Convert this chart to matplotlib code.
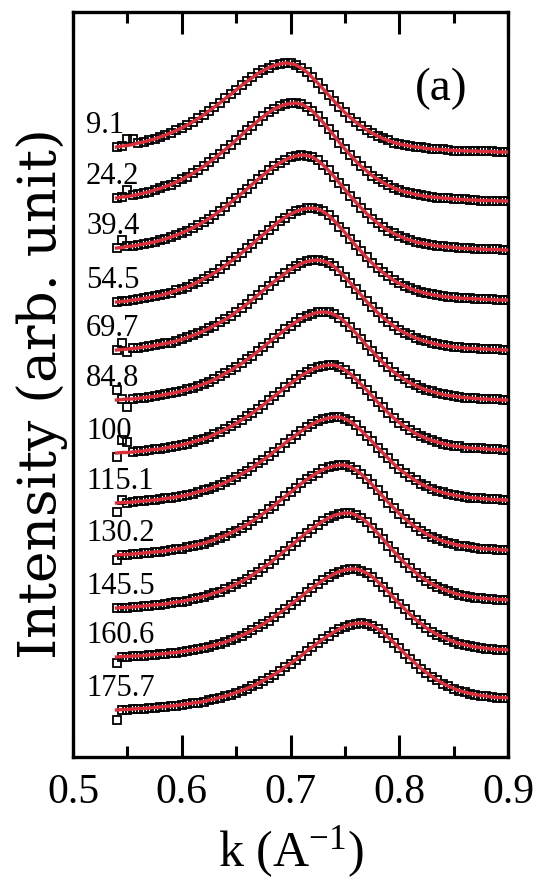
import numpy as np
import matplotlib
matplotlib.use("Agg")
import matplotlib.pyplot as plt

# Temperature of each scan, top to bottom
temps = ["9.1", "24.2", "39.4", "54.5", "69.7", "84.8", "100",
         "115.1", "130.2", "145.5", "160.6", "175.7"]

# Momentum transfer grid (A^-1)
k = np.round(np.linspace(0.54, 0.90, 73), 3)

# Fitted intensity profiles, in units of 0.01 arb. unit
I_9_1 = [120,122,123,125,128,130,133,136,140,144,148,153,158,164,170,177,184,192,200,208,217,225,234,243,251,259,267,273,279,283,286,288,287,284,278,270,259,248,236,224,212,200,189,179,170,162,154,148,142,137,133,129,126,124,122,120,119,117,116,115,115,114,113,113,112,112,112,111,111,111,110,110,110]
I_24_2 = [118,120,121,123,125,128,130,134,137,141,145,150,155,161,167,174,181,189,197,206,215,224,234,244,254,263,272,281,289,296,301,305,307,308,306,300,292,281,269,256,243,229,216,204,192,181,172,163,156,149,143,138,134,130,128,125,123,121,120,119,118,117,116,115,115,114,114,113,113,113,112,112,112]
I_39_4 = [118,119,121,122,124,126,128,130,133,136,140,144,148,153,158,164,170,177,184,192,200,209,218,227,236,246,255,264,273,281,288,294,299,302,304,303,300,293,284,273,261,248,235,222,210,198,187,177,168,160,153,147,142,137,134,130,128,126,124,122,121,120,119,118,117,117,116,116,115,115,115,114,114]
I_54_5 = [110,111,112,114,115,117,119,121,123,126,129,133,136,140,145,150,156,162,168,175,183,191,199,208,217,226,236,245,254,263,272,279,286,291,295,297,298,296,291,283,273,261,249,236,223,211,199,188,178,169,161,153,147,142,137,133,130,127,125,123,121,120,119,118,117,117,116,116,115,115,114,114,114]
I_69_7 = [114,115,116,117,118,120,121,123,125,127,129,132,135,139,143,147,152,157,163,169,175,182,190,198,206,215,224,233,242,251,259,267,275,281,287,291,293,294,292,288,281,271,260,248,236,224,211,200,189,179,170,162,154,148,143,138,134,131,128,125,123,122,120,119,118,117,117,116,116,115,115,114,114]
I_84_8 = [114,115,116,116,117,119,120,121,123,125,127,129,132,135,138,142,146,150,155,161,167,173,180,187,195,203,211,220,229,238,246,255,263,270,277,282,286,289,290,289,285,279,270,259,248,236,223,212,200,189,179,170,162,155,148,143,138,134,131,128,125,123,122,120,119,118,117,116,116,115,115,114,114]
I_100 = [108,109,109,110,111,112,114,115,116,118,120,122,124,127,130,133,136,140,145,150,155,161,167,174,181,188,196,204,213,222,230,239,247,255,263,269,275,279,282,284,284,280,274,266,256,245,234,222,210,199,188,178,169,161,154,147,142,137,133,130,127,124,122,121,119,118,117,117,116,115,115,114,114]
I_115_1 = [108,109,109,110,111,112,113,114,115,117,118,120,122,124,127,130,133,136,140,144,149,154,160,166,172,179,187,194,202,211,219,228,236,244,252,259,266,271,275,278,280,280,276,271,263,253,242,231,219,208,197,186,176,168,160,153,146,141,136,132,129,126,124,122,120,119,118,117,116,115,115,114,114]
I_130_2 = [104,105,105,106,107,108,109,110,111,112,114,116,117,120,122,125,127,131,134,139,143,148,153,159,165,172,179,187,195,203,212,221,229,238,247,255,262,269,275,279,282,284,284,280,274,266,256,245,233,221,209,198,187,177,168,160,153,146,141,136,132,129,126,123,122,120,119,117,116,116,115,114,114]
I_145_5 = [98,99,99,100,101,102,103,104,105,106,108,110,111,113,116,118,121,124,128,131,136,140,146,151,157,164,171,179,186,195,204,213,222,231,240,249,257,265,272,278,283,286,288,288,284,278,270,259,248,236,223,211,199,188,178,169,160,153,146,141,136,132,128,125,123,121,119,118,117,116,115,115,114]
I_160_6 = [100,101,101,102,102,103,104,105,106,107,108,109,111,112,114,116,118,121,124,127,130,134,139,143,148,154,160,166,173,181,188,196,205,213,221,230,238,246,254,260,266,271,274,276,276,273,268,261,251,241,230,218,207,196,185,175,167,158,151,145,140,135,131,127,125,122,120,119,117,116,115,115,114]
I_175_7 = [94,95,95,96,97,97,98,99,100,101,102,103,105,106,108,109,111,114,116,119,122,125,129,133,137,142,147,153,159,165,172,180,187,195,203,212,220,228,236,243,250,256,261,265,267,268,267,263,257,249,239,229,218,207,197,187,177,169,161,154,147,142,137,133,130,127,125,123,122,120,119,119,118]

fits = [I_9_1, I_24_2, I_39_4, I_54_5, I_69_7, I_84_8, I_100,
        I_115_1, I_130_2, I_145_5, I_160_6, I_175_7]

# Measured points that sit off the fitted profile (scan, k, intensity x0.01)
dev_scan = [0, 0, 1, 2, 4, 4, 5, 5, 6, 6, 6, 7, 7, 8, 10, 11]
dev_k = [0.55, 0.555, 0.55, 0.545, 0.545, 0.55, 0.54, 0.55, 0.54, 0.545, 0.55,
         0.54, 0.545, 0.54, 0.54, 0.54]
dev_val = [136, 136, 134, 134, 128, 110, 134, 100, 100, 134, 130, 90, 114, 94, 88, 74]

plt.rcParams['font.family'] = ['Liberation Serif', 'DejaVu Serif']
plt.rcParams['mathtext.default'] = 'regular'

fig = plt.figure(figsize=(5.39, 8.8), dpi=100)
ax = fig.add_axes([73/539, 1-757/880, 435/539, 745/880])
red = '#dc2f3c'

n = len(fits)
for i, fit in enumerate(fits):
    off = n - 1 - i
    fit = np.asarray(fit, dtype=float) / 100.0
    meas = fit.copy()
    for s, kk, v in zip(dev_scan, dev_k, dev_val):
        if s == i:
            meas[np.argmin(np.abs(k - kk))] = v / 100.0
    ax.plot(k, meas + off, ls='none', marker='s', ms=6.2, mfc='none',
            mec='black', mew=1.3, zorder=2)
    ax.plot(k, fit + off, color=red, lw=2.4, zorder=3)
    ax.text(0.512, off + fit[0] + 0.28, temps[i], fontsize=22,
            ha='left', va='baseline')

ax.set_xlim(0.5, 0.9)
ax.set_ylim(0, 14.9)
ax.set_xticks([0.5, 0.6, 0.7, 0.8, 0.9])
ax.set_xticks([0.55, 0.65, 0.75, 0.85], minor=True)
ax.set_xticklabels(["0.5", "0.6", "0.7", "0.8", "0.9"])
ax.tick_params(axis='x', which='both', direction='in', top=True,
               labelsize=30, pad=12)
ax.tick_params(axis='x', which='major', length=16, width=2.2)
ax.tick_params(axis='x', which='minor', length=8, width=2.2)
ax.set_yticks([])
for s in ax.spines.values():
    s.set_linewidth(2.4)

ax.text(0.846, 0.882, "(a)", transform=ax.transAxes, fontsize=34,
        ha='center', va='baseline')
ax.set_xlabel(r'k (A$^{-1}$)', fontsize=36)
ax.xaxis.set_label_coords(0.5, -0.09)
ax.set_ylabel('Intensity (arb. unit)', fontsize=38.5, family='DejaVu Serif')
ax.yaxis.set_label_coords(-0.012, 0.488)

fig.savefig('out.png', dpi=100)
